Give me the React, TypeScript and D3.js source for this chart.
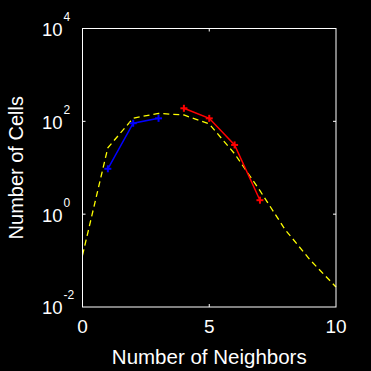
import React from "react";
import * as d3 from "d3";

// neighbour counts and cell counts
const fitX = [0, 1, 2, 3, 4, 5, 6, 7, 8, 9, 10];
const fitY = [0.13, 27, 117, 148, 137, 88, 20, 3.2, 0.46, 0.1, 0.027];
const blueX = [1, 2, 3];
const blueY = [9.5, 91, 116];
const redX = [4, 5, 6, 7];
const redY = [191, 116, 31, 2.0];
const xTicks = [0, 5, 10];
const yExps = [-2, 0, 2, 4];

const W = 371;
const H = 371;
const left = 82.5;
const right = 336;
const top = 28.5;
const bottom = 307;
const font = "'Liberation Sans', Arial, sans-serif";

export default function App() {
  const x = d3.scaleLinear().domain([0, 10]).range([left, right]);
  const y = d3.scaleLog().domain([0.01, 10000]).range([bottom, top]);

  const line = d3
    .line<[number, number]>()
    .x((d) => x(d[0]))
    .y((d) => y(d[1]));

  const pts = (xs: number[], ys: number[]) =>
    xs.map((v, i) => [v, ys[i]] as [number, number]);

  const marks = (xs: number[], ys: number[], color: string) =>
    xs.map((v, i) => {
      const cx = x(v);
      const cy = y(ys[i]);
      return (
        <g key={i} stroke={color} strokeWidth={2}>
          <line x1={cx - 3.5} x2={cx + 3.5} y1={cy} y2={cy} />
          <line x1={cx} x2={cx} y1={cy - 3.5} y2={cy + 3.5} />
        </g>
      );
    });

  return (
    <svg
      width={W}
      height={H}
      style={{ position: "absolute", left: 0, top: 0, background: "black" }}
    >
      <rect x={0} y={0} width={W} height={H} fill="black" />

      <path
        d={line(pts(fitX, fitY)) || ""}
        fill="none"
        stroke="#ffff00"
        strokeWidth={1.3}
        strokeDasharray="6,4"
      />
      <path
        d={line(pts(blueX, blueY)) || ""}
        fill="none"
        stroke="#0000ff"
        strokeWidth={1.5}
      />
      {marks(blueX, blueY, "#0000ff")}
      <path
        d={line(pts(redX, redY)) || ""}
        fill="none"
        stroke="#ff0000"
        strokeWidth={1.5}
      />
      {marks(redX, redY, "#ff0000")}

      {/* axes box */}
      <rect
        x={left}
        y={top}
        width={right - left}
        height={bottom - top}
        fill="none"
        stroke="white"
        strokeWidth={1}
      />
      {xTicks.slice(1, -1).map((t) => (
        <g key={t} stroke="white">
          <line x1={x(t)} x2={x(t)} y1={bottom} y2={bottom - 3} />
          <line x1={x(t)} x2={x(t)} y1={top} y2={top + 3} />
        </g>
      ))}
      {yExps.slice(1, -1).map((e) => (
        <g key={e} stroke="white">
          <line x1={left} x2={left + 3} y1={y(10 ** e)} y2={y(10 ** e)} />
          <line x1={right} x2={right - 3} y1={y(10 ** e)} y2={y(10 ** e)} />
        </g>
      ))}

      {xTicks.map((t) => (
        <text
          key={t}
          x={x(t)}
          y={332.7}
          fill="white"
          fontFamily={font}
          fontSize={19}
          textAnchor="middle"
        >
          {t}
        </text>
      ))}
      {yExps.map((e) => (
        <g key={e} fill="white" fontFamily={font}>
          <text x={62.5} y={y(10 ** e) + 7.4} fontSize={18.5} textAnchor="end">
            10
          </text>
          <text x={63.5} y={y(10 ** e) - 7.6} fontSize={12}>
            {e}
          </text>
        </g>
      ))}

      <text
        x={(left + right) / 2}
        y={364}
        fill="white"
        fontFamily={font}
        fontSize={20.5}
        textAnchor="middle"
      >
        Number of Neighbors
      </text>
      <text
        transform={`translate(23,${(top + bottom) / 2}) rotate(-90)`}
        fill="white"
        fontFamily={font}
        fontSize={20}
        textAnchor="middle"
      >
        Number of Cells
      </text>
    </svg>
  );
}
